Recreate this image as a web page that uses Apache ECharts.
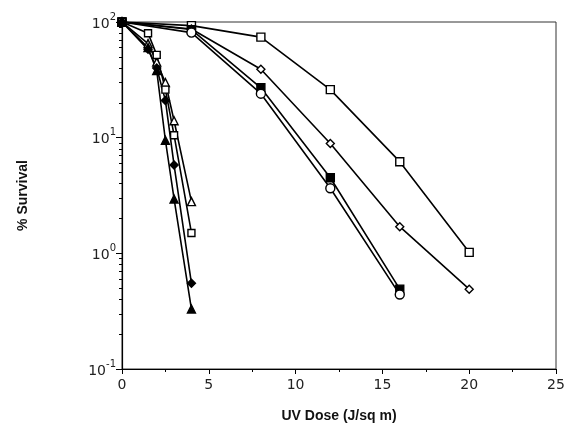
<!DOCTYPE html>
<html>
<head>
<meta charset="utf-8">
<script src="https://cdn.jsdelivr.net/npm/echarts@6/dist/echarts.min.js"></script>
<style>
html,body{margin:0;padding:0;background:#fff;}
#chart{width:575px;height:438px;}
</style>
</head>
<body>
<div id="chart"></div>
<script>
// Doses (J/sq m)
const fastDoses = [0, 1.5, 2, 2.5, 3, 4];
const slowDoses = [0, 4, 8, 12, 16, 20];
const midDoses  = [0, 4, 8, 12, 16];

// % survival values
const fastOpenTriangle   = [100, 65, 45, 30, 14, 2.8];
const fastOpenSquare     = [100, 80, 52, 26, 10.5, 1.5];
const fastFilledDiamond  = [100, 58, 40, 21, 5.8, 0.55];
const fastFilledTriangle = [100, 60, 38, 9.5, 2.95, 0.33];

const slowOpenSquare   = [100, 93, 74, 26, 6.2, 1.02];
const slowOpenDiamond  = [100, 87, 39, 8.9, 1.7, 0.49];
const midFilledSquare  = [100, 86, 27, 4.5, 0.49];
const midOpenCircle    = [100, 81, 24, 3.65, 0.44];

const xTicks = [0, 5, 10, 15, 20, 25];
const yMinorTicks = [0.2,0.3,0.4,0.5,0.6,0.7,0.8,0.9,2,3,4,5,6,7,8,9,20,30,40,50,60,70,80,90];

const FONT = 'DejaVu Sans';
const BOLD = 'Liberation Sans';

function pairs(xs, ys){ return xs.map((x,i)=>[x, ys[i]]); }

function mk(name, xs, ys, symbol, filled, size){
  return {
    name: name, type: 'line', data: pairs(xs, ys),
    symbol: symbol, symbolSize: size, showSymbol: true,
    lineStyle: {color: '#000', width: 1.6},
    itemStyle: {color: filled ? '#000' : '#fff', borderColor: '#000', borderWidth: 1.4},
    emphasis: {disabled: true},
    animation: false, z: 3
  };
}

const chart = echarts.init(document.getElementById('chart'), null, {renderer: 'canvas'});
chart.setOption({
  backgroundColor: '#fff',
  animation: false,
  grid: {left: 122, right: 19, top: 22, bottom: 69, show: true, borderColor: '#333', borderWidth: 1, backgroundColor: 'transparent'},
  xAxis: {
    type: 'value', min: 0, max: 25, interval: 5,
    name: 'UV Dose (J/sq m)', nameLocation: 'middle', nameGap: 40,
    nameTextStyle: {fontFamily: BOLD, fontWeight: 'bold', fontSize: 14, color: '#111'},
    axisLine: {show: true, lineStyle: {color: '#000', width: 1.2}},
    axisTick: {show: true, inside: false, length: 5, lineStyle: {color: '#000'}},
    minorTick: {show: true, splitNumber: 2, length: 3, lineStyle: {color: '#000'}},
    splitLine: {show: false},
    axisLabel: {fontFamily: FONT, fontSize: 14, color: '#222', margin: 9,
      formatter: v => xTicks.indexOf(v) >= 0 ? String(v) : ''}
  },
  yAxis: [{
    type: 'log', logBase: 10, min: 0.1, max: 100,
    name: '% Survival', nameLocation: 'middle', nameGap: 92, nameRotate: 90,
    nameTextStyle: {fontFamily: BOLD, fontWeight: 'bold', fontSize: 14, color: '#111'},
    axisLine: {show: true, lineStyle: {color: '#000', width: 1.2}},
    axisTick: {show: true, inside: false, length: 6, lineStyle: {color: '#000'}},
    splitLine: {show: false},
    axisLabel: {
      margin: 6,
      formatter: v => '{b|10}{s|' + Math.round(Math.log10(v)) + '}',
      rich: {
        b: {fontFamily: FONT, fontSize: 14, color: '#222', padding: [4, 0, 0, 0]},
        s: {fontFamily: FONT, fontSize: 10, color: '#222', padding: [0, 0, 10, 0]}
      }
    }
  }, {
    type: 'log', logBase: 10, min: 0.1, max: 100, position: 'left',
    axisLine: {show: false},
    axisLabel: {show: false},
    splitLine: {show: false},
    axisTick: {show: true, inside: false, length: 3, customValues: yMinorTicks, lineStyle: {color: '#000'}}
  }],
  series: [
    mk('slowOpenSquare', slowDoses, slowOpenSquare, 'rect', false, 8),
    mk('slowOpenDiamond', slowDoses, slowOpenDiamond, 'diamond', false, 8),
    mk('midFilledSquare', midDoses, midFilledSquare, 'rect', true, 8),
    mk('midOpenCircle', midDoses, midOpenCircle, 'circle', false, 9),
    mk('fastOpenTriangle', fastDoses, fastOpenTriangle, 'triangle', false, 8),
    mk('fastOpenSquare', fastDoses, fastOpenSquare, 'rect', false, 7),
    mk('fastFilledDiamond', fastDoses, fastFilledDiamond, 'diamond', true, 8),
    mk('fastFilledTriangle', fastDoses, fastFilledTriangle, 'triangle', true, 8)
  ]
});
</script>
</body>
</html>
